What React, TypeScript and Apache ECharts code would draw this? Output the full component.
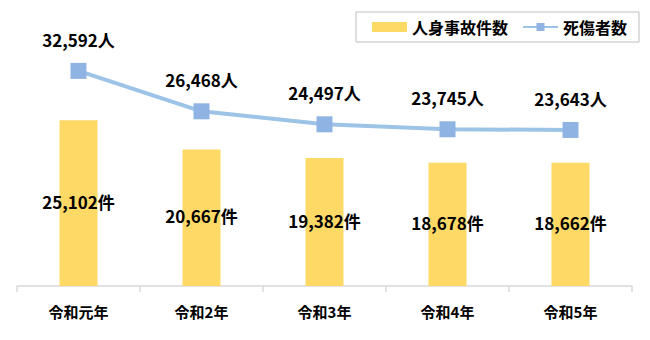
import React, { useEffect, useRef } from "react";
import * as echarts from "echarts";

const categories = ["令和元年", "令和2年", "令和3年", "令和4年", "令和5年"];
const accidents = [25102, 20667, 19382, 18678, 18662];
const casualties = [32592, 26468, 24497, 23745, 23643];

const FONT = "'Noto Sans CJK JP', 'Noto Sans', sans-serif";

export default function App() {
  const ref = useRef<HTMLDivElement>(null);
  useEffect(() => {
    const chart = echarts.init(ref.current!, null, { renderer: "svg" });
    chart.setOption({
      animation: false,
      textStyle: { fontFamily: FONT },
      legend: {
        right: 11,
        top: 12,
        padding: [7, 12, 7, 16],
        borderColor: "#BFBFBF",
        borderWidth: 1,
        itemGap: 14,
        itemWidth: 35,
        itemHeight: 10,
        textStyle: { fontFamily: FONT, fontSize: 16, fontWeight: "bold", color: "#000" },
        data: [
          { name: "人身事故件数", icon: "rect" },
          { name: "死傷者数" },
        ],
      },
      grid: { left: 17, right: 18, top: 22, bottom: 54 },
      xAxis: {
        type: "category",
        data: categories,
        axisLine: { lineStyle: { color: "#D9D9D9", width: 1.5 } },
        axisTick: { show: true, length: 6, lineStyle: { color: "#D9D9D9", width: 1.5 } },
        axisLabel: { fontFamily: FONT, fontSize: 15, fontWeight: "bold", color: "#000", margin: 18 },
      },
      yAxis: {
        type: "value",
        min: 0,
        max: 40000,
        show: false,
        splitLine: { show: false },
      },
      series: [
        {
          name: "人身事故件数",
          type: "bar",
          data: accidents,
          barWidth: 38,
          itemStyle: { color: "#FFD966" },
          label: {
            show: true,
            position: "inside",
            offset: [0, -2],
            formatter: (p: any) => p.value.toLocaleString("en-US") + "件",
            fontFamily: FONT,
            fontSize: 17,
            fontWeight: "bold",
            color: "#000",
          },
        },
        {
          name: "死傷者数",
          type: "line",
          data: casualties,
          symbol: "rect",
          symbolSize: 16,
          lineStyle: { color: "#9DC3E6", width: 4 },
          itemStyle: { color: "#8FB4E3" },
          label: {
            show: true,
            position: "top",
            distance: 15,
            formatter: (p: any) => p.value.toLocaleString("en-US") + "人",
            fontFamily: FONT,
            fontSize: 17,
            fontWeight: "bold",
            color: "#000",
          },
        },
      ],
    });
    return () => chart.dispose();
  }, []);
  return (
    <div
      ref={ref}
      style={{ position: "absolute", left: 0, top: 0, width: 650, height: 340 }}
    />
  );
}
